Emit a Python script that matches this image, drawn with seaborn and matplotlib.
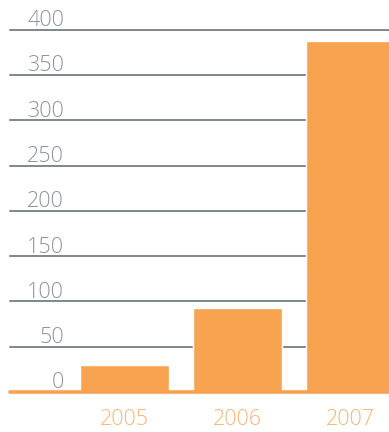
import matplotlib
matplotlib.use("Agg")
import matplotlib.pyplot as plt
import matplotlib.transforms as mtransforms
import seaborn as sns
import pandas as pd

years = ["2005", "2006", "2007"]
values = [30, 93, 387]
tick_values = [0, 50, 100, 150, 200, 250, 300, 350, 400]

bar_color = "#F8A34F"
year_color = "#F9B57A"
grid_color = "#7E868E"
label_color = "#8E9399"

sns.set_theme(style="white")
plt.rcParams["font.family"] = ["Open Sans", "DejaVu Sans"]

W, H = 389, 432
fig = plt.figure(figsize=(W / 100, H / 100), dpi=100)
ax = fig.add_axes([10 / W, 1 - 392 / H, 379 / W, (392 - 29.7) / H])

df = pd.DataFrame({"year": years, "value": values})
sns.barplot(data=df, x="year", y="value", color=bar_color, saturation=1,
            width=89 / 113, ax=ax, zorder=3)

ax.set_ylim(0, 400)
ax.set_xlim((10 - 124.5) / 113, (389 - 124.5) / 113)

# horizontal rules behind the bars, orange baseline on top
for v in tick_values[1:]:
    ax.axhline(v, color=grid_color, lw=1.4, zorder=1, clip_on=False)
ax.axhline(0, color=bar_color, lw=2.6, zorder=4, clip_on=False)

# value labels sitting just above each rule
trans = mtransforms.blended_transform_factory(fig.transFigure, ax.transData)
offset = mtransforms.ScaledTranslation(0, 3.5 / 100, fig.dpi_scale_trans)
for v in tick_values:
    ax.text(64 / W, v, str(v), transform=trans + offset, ha="right", va="baseline",
            fontsize=15.5, color=label_color, fontweight="light")

ax.set_yticks([])
ax.set_xlabel("")
ax.set_ylabel("")
ax.tick_params(axis="x", length=0, pad=12, labelsize=15.5, labelcolor=year_color)
for t in ax.get_xticklabels():
    t.set_fontweight("light")
for s in ax.spines.values():
    s.set_visible(False)

fig.savefig("out.png", dpi=100)
